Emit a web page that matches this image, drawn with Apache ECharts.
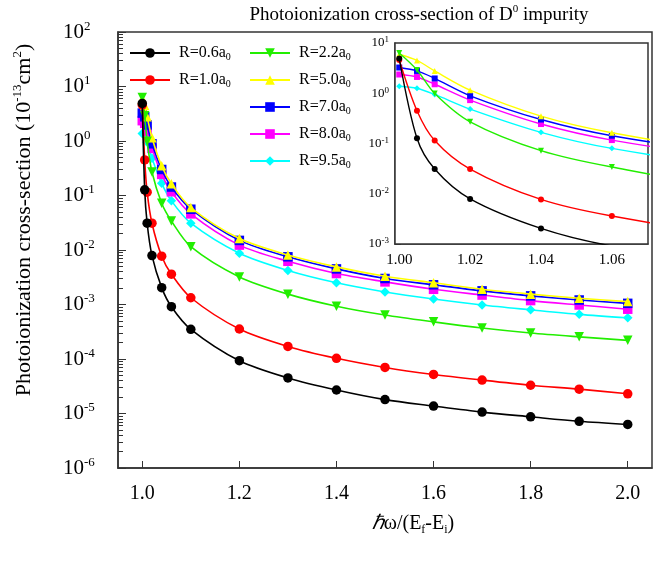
<!DOCTYPE html>
<html>
<head>
<meta charset="utf-8">
<script src="https://cdn.jsdelivr.net/npm/echarts@6/dist/echarts.min.js"></script>
<style>
  html, body { margin: 0; padding: 0; background: #fff; }
  #chart { width: 663px; height: 566px; }
</style>
</head>
<body>
<div id="chart"></div>
<script>
// photon energy points (hw/(Ef-Ei))
const xs = [1.0, 1.005, 1.01, 1.02, 1.04, 1.06, 1.1, 1.2, 1.3, 1.4, 1.5, 1.6, 1.7, 1.8, 1.9, 2.0];
const names = ["R=0.6a0", "R=1.0a0", "R=2.2a0", "R=5.0a0", "R=7.0a0", "R=8.0a0", "R=9.5a0"];
const r06 = [4.9, 0.127, 0.031, 0.0079, 0.00204, 0.00091, 0.00035, 9.3e-5, 4.5e-5, 2.7e-5, 1.8e-5, 1.37e-5, 1.06e-5, 8.7e-6, 7.2e-6, 6.3e-6];
const r10 = [4.6, 0.45, 0.115, 0.031, 0.0077, 0.0036, 0.00133, 3.55e-4, 1.7e-4, 1.03e-4, 7.0e-5, 5.2e-5, 4.1e-5, 3.3e-5, 2.8e-5, 2.3e-5];
const r22 = [6.3, 2.9, 0.99, 0.27, 0.072, 0.034, 0.0115, 0.0032, 0.00155, 9.3e-4, 6.4e-4, 4.8e-4, 3.7e-4, 3.0e-4, 2.55e-4, 2.2e-4];
const r50 = [5.97, 4.5, 2.78, 1.15, 0.35, 0.164, 0.06, 0.0162, 0.0081, 0.0049, 0.0033, 0.0025, 0.0019, 0.00155, 0.0013, 0.00113];
const r70 = [3.25, 2.78, 1.97, 0.89, 0.30, 0.143, 0.056, 0.015, 0.0075, 0.0045, 0.0030, 0.0023, 0.00178, 0.00144, 0.00121, 0.00105];
const r80 = [2.36, 2.11, 1.51, 0.73, 0.244, 0.117, 0.046, 0.0123, 0.0062, 0.0037, 0.0026, 0.0019, 0.00149, 0.00118, 9.8e-4, 8.2e-4];
const r95 = [1.38, 1.26, 0.946, 0.484, 0.167, 0.080, 0.031, 0.0087, 0.0042, 0.0025, 0.0017, 0.00126, 9.8e-4, 8.0e-4, 6.6e-4, 5.7e-4];
const mainXTicks = [1.0, 1.2, 1.4, 1.6, 1.8, 2.0];
const insetXTicks = [1.00, 1.02, 1.04, 1.06];

const allData = [r06, r10, r22, r50, r70, r80, r95];
const colors = ["#000000", "#ff0000", "#22ee00", "#ffff00", "#0000ff", "#ff00ff", "#00ffff"];
const symbols = ["circle", "circle", "triangle", "triangle", "rect", "rect", "diamond"];
const rotates = [0, 0, 180, 0, 0, 0, 0];

const serif = "Liberation Serif";

// minor tick positions (2..9 x 10^k) as log10 values, for a linear helper axis
function minorTicks(lo, hi) {
  const out = [];
  for (let k = lo; k < hi; k++) {
    for (let m = 2; m <= 9; m++) out.push(k + Math.log10(m));
  }
  return out;
}

function powLabel(v) {
  const e = Math.round(Math.log10(v));
  return "{b|10}{s|" + e + "}";
}

function legendFmt(name) {
  return "{t|" + name.slice(0, -1) + "}{u|" + name.slice(-1) + "}";
}

const legendRich = {
  t: { fontFamily: serif, fontSize: 16, color: "#000", lineHeight: 18, padding: [0, 0, 0, 4] },
  u: { fontFamily: serif, fontSize: 10, color: "#000", lineHeight: 18, verticalAlign: "bottom" }
};

const series = [];
allData.forEach((vals, i) => {
  const pts = xs.map((x, j) => [x, vals[j]]);
  const base = {
    name: names[i],
    type: "line",
    data: pts,
    smooth: 0.3,
    symbol: symbols[i],
    symbolRotate: rotates[i],
    itemStyle: { color: colors[i] },
    lineStyle: { color: colors[i], width: 1.6 },
    z: 20 - i,
    animation: false
  };
  series.push(Object.assign({}, base, { xAxisIndex: 0, yAxisIndex: 0, symbolSize: 9.5 }));
  series.push(Object.assign({}, base, {
    xAxisIndex: 1, yAxisIndex: 2, symbolSize: 6, clip: true,
    lineStyle: { color: colors[i], width: 1.4 }
  }));
});

const chart = echarts.init(document.getElementById("chart"));
chart.setOption({
  backgroundColor: "#fff",
  animation: false,
  grid: [
    { left: 118, top: 32, right: 11, bottom: 98, show: true, borderColor: "#333", borderWidth: 1.5 },
    { left: 395, top: 43, right: 15, bottom: 322, show: true, borderColor: "#333", borderWidth: 1.5, backgroundColor: "#fff", z: 5 }
  ],
  legend: [
    {
      data: names.slice(0, 2), orient: "vertical", left: 124, top: 40,
      itemWidth: 40, itemHeight: 12, itemGap: 10, formatter: legendFmt,
      textStyle: { rich: legendRich }, selectedMode: false
    },
    {
      data: names.slice(2), orient: "vertical", left: 244, top: 40,
      itemWidth: 40, itemHeight: 12, itemGap: 10, formatter: legendFmt,
      textStyle: { rich: legendRich }, selectedMode: false
    }
  ],
  xAxis: [
    {
      gridIndex: 0, type: "value", min: 0.95, max: 2.05,
      axisLine: { onZero: false, lineStyle: { color: "#333", width: 1.5 } },
      axisTick: { inside: true, length: 7, customValues: mainXTicks, lineStyle: { color: "#333" } },
      axisLabel: {
        customValues: mainXTicks, margin: 16, color: "#000", fontFamily: serif, fontSize: 20,
        formatter: v => v.toFixed(1)
      },
      splitLine: { show: false }
    },
    {
      gridIndex: 1, type: "value", min: 0.9988, max: 1.0702,
      axisLine: { onZero: false, lineStyle: { color: "#333", width: 1.5 } },
      axisTick: { inside: true, length: 5, customValues: insetXTicks, lineStyle: { color: "#333" } },
      axisLabel: {
        customValues: insetXTicks, margin: 9, color: "#000", fontFamily: serif, fontSize: 15,
        formatter: v => v.toFixed(2)
      },
      splitLine: { show: false }
    }
  ],
  yAxis: [
    {
      gridIndex: 0, type: "log", logBase: 10, min: 1e-6, max: 1e2, position: "left",
      axisLine: { show: true, onZero: false, lineStyle: { color: "#333", width: 1.5 } },
      axisTick: { show: true, inside: true, length: 8, lineStyle: { color: "#333" } },
      axisLabel: {
        margin: 55, align: "left", color: "#000", formatter: powLabel,
        rich: {
          b: { fontFamily: serif, fontSize: 21, color: "#000", lineHeight: 24 },
          s: { fontFamily: serif, fontSize: 13, color: "#000", lineHeight: 13, verticalAlign: "top" }
        }
      },
      splitLine: { show: false }
    },
    {
      gridIndex: 0, type: "value", min: -6, max: 2, position: "left",
      axisLine: { show: false, onZero: false },
      axisTick: { show: true, inside: true, length: 5, customValues: minorTicks(-6, 2), lineStyle: { color: "#333" } },
      axisLabel: { show: false },
      splitLine: { show: false }
    },
    {
      gridIndex: 1, type: "log", logBase: 10, min: 1e-3, max: 1e1, position: "left",
      axisLine: { show: true, onZero: false, lineStyle: { color: "#333", width: 1.5 } },
      axisTick: { show: true, inside: true, length: 6, lineStyle: { color: "#333" } },
      axisLabel: {
        margin: 6, color: "#000", formatter: powLabel,
        rich: {
          b: { fontFamily: serif, fontSize: 13, color: "#000", lineHeight: 15 },
          s: { fontFamily: serif, fontSize: 9, color: "#000", lineHeight: 9, verticalAlign: "top" }
        }
      },
      splitLine: { show: false }
    },
    {
      gridIndex: 1, type: "value", min: -3, max: 1, position: "left",
      axisLine: { show: false, onZero: false },
      axisTick: { show: true, inside: true, length: 3, customValues: minorTicks(-3, 1), lineStyle: { color: "#333" } },
      axisLabel: { show: false },
      splitLine: { show: false }
    }
  ],
  graphic: [
    {
      type: "text", x: 419, y: 15, z: 30,
      style: {
        text: "{a|Photoionization cross-section of D}{s|0}{a| impurity}",
        align: "center", verticalAlign: "middle",
        rich: {
          a: { fontFamily: serif, fontSize: 19, fill: "#000", lineHeight: 22 },
          s: { fontFamily: serif, fontSize: 11, fill: "#000", lineHeight: 11, verticalAlign: "top" }
        }
      }
    },
    {
      type: "text", x: 24, y: 220, rotation: Math.PI / 2, z: 30,
      style: {
        text: "{a|Photoionization cross-section (10}{s|-13}{a|cm}{s|2}{a|)}",
        align: "center", verticalAlign: "middle",
        rich: {
          a: { fontFamily: serif, fontSize: 22, fill: "#000", lineHeight: 26 },
          s: { fontFamily: serif, fontSize: 13, fill: "#000", lineHeight: 13, verticalAlign: "top" }
        }
      }
    },
    {
      type: "text", x: 413, y: 524, z: 30,
      style: {
        text: "{i|ℏ}{a|ω/(E}{u|f}{a|-E}{u|i}{a|)}",
        align: "center", verticalAlign: "middle",
        rich: {
          i: { fontFamily: serif, fontStyle: "italic", fontSize: 20, fill: "#000", lineHeight: 24 },
          a: { fontFamily: serif, fontSize: 20, fill: "#000", lineHeight: 24 },
          u: { fontFamily: serif, fontSize: 12, fill: "#000", lineHeight: 24, verticalAlign: "bottom" }
        }
      }
    }
  ],
  series: series
});
</script>
</body>
</html>
